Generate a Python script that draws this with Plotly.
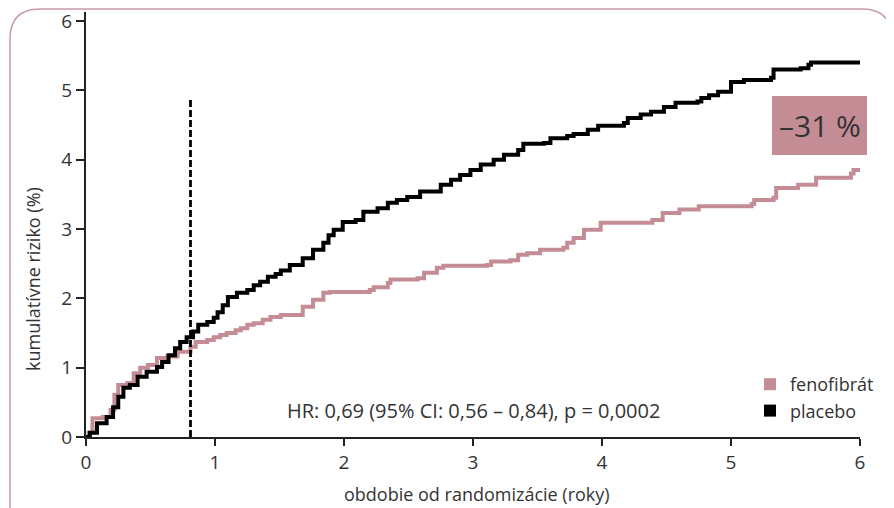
import plotly.graph_objects as go

# ---- data ----
placebo_x = [0.0, 0.03, 0.085, 0.16, 0.21, 0.25, 0.29, 0.34, 0.40, 0.47, 0.55, 0.59, 0.64, 0.69, 0.73,
             0.78, 0.83, 0.87, 0.94, 0.99, 1.02, 1.06, 1.10, 1.17, 1.25, 1.30, 1.35, 1.41, 1.47, 1.51,
             1.58, 1.68, 1.76, 1.84, 1.88, 1.92, 1.99, 2.09, 2.15, 2.26, 2.34, 2.41, 2.49, 2.59, 2.75,
             2.83, 2.90, 2.98, 3.06, 3.16, 3.24, 3.35, 3.39, 3.55, 3.60, 3.73, 3.78, 3.89, 3.97, 4.17,
             4.20, 4.30, 4.38, 4.48, 4.57, 4.74, 4.77, 4.83, 4.90, 5.00, 5.10, 5.31, 5.33, 5.54, 5.60,
             5.62, 6.00]
placebo_y = [0.0, 0.06, 0.20, 0.29, 0.43, 0.58, 0.71, 0.75, 0.87, 0.94, 1.01, 1.08, 1.18, 1.28, 1.37,
             1.44, 1.52, 1.62, 1.66, 1.72, 1.80, 1.90, 2.02, 2.08, 2.12, 2.19, 2.24, 2.31, 2.35, 2.40,
             2.48, 2.58, 2.70, 2.80, 2.91, 2.99, 3.10, 3.13, 3.25, 3.30, 3.38, 3.42, 3.46, 3.54, 3.64,
             3.71, 3.78, 3.85, 3.93, 4.00, 4.07, 4.14, 4.23, 4.24, 4.31, 4.34, 4.37, 4.43, 4.49, 4.53,
             4.60, 4.65, 4.69, 4.76, 4.82, 4.84, 4.89, 4.93, 4.98, 5.12, 5.15, 5.18, 5.30, 5.32, 5.37,
             5.40, 5.40]

feno_x = [0.0, 0.02, 0.05, 0.13, 0.19, 0.22, 0.25, 0.32, 0.37, 0.42, 0.48, 0.55, 0.63, 0.71, 0.81,
          0.85, 0.94, 0.99, 1.04, 1.09, 1.16, 1.20, 1.25, 1.30, 1.37, 1.43, 1.51, 1.68, 1.76, 1.84,
          1.89, 2.20, 2.23, 2.34, 2.36, 2.57, 2.62, 2.72, 2.77, 3.11, 3.14, 3.29, 3.35, 3.42, 3.52,
          3.70, 3.73, 3.78, 3.86, 3.99, 4.36, 4.39, 4.47, 4.60, 4.75, 5.16, 5.18, 5.33, 5.35, 5.52,
          5.66, 5.93, 5.95, 6.00]
feno_y = [0.0, 0.06, 0.27, 0.29, 0.39, 0.61, 0.75, 0.78, 0.92, 1.00, 1.04, 1.14, 1.16, 1.23, 1.30,
          1.37, 1.40, 1.44, 1.47, 1.50, 1.54, 1.57, 1.62, 1.64, 1.69, 1.73, 1.76, 1.88, 1.98, 2.08,
          2.09, 2.12, 2.16, 2.22, 2.27, 2.29, 2.37, 2.44, 2.47, 2.48, 2.53, 2.55, 2.63, 2.65, 2.70,
          2.73, 2.80, 2.87, 2.99, 3.09, 3.09, 3.13, 3.23, 3.28, 3.33, 3.36, 3.42, 3.45, 3.59, 3.64,
          3.74, 3.80, 3.85, 3.85]

x_ticks = [0, 1, 2, 3, 4, 5, 6]
y_ticks = [0, 1, 2, 3, 4, 5, 6]
landmark_x = 0.81
landmark_top = 4.9

PINK = "#c48d96"
TXT = "#333333"
FONT = "Open Sans"

# the page body adds an 8px offset; lay the figure out in screen pixels
OFF = 8
W, H = 894 - OFF, 508 - OFF
SL, SR, ST, SB = 86, 860, 12, 437          # plot area in screen pixels
ML, MR, MT, MB = SL - OFF, W - (SR - OFF), ST - OFF, H - (SB - OFF)
PW, PH = SR - SL, SB - ST

def px(xs):
    return (xs - SL) / PW

def py(ys):
    return (SB - ys) / PH

fig = go.Figure()
fig.add_trace(go.Scatter(x=feno_x, y=feno_y, mode="lines", line=dict(color=PINK, width=4, shape="hv"),
                         showlegend=False, hoverinfo="skip"))
fig.add_trace(go.Scatter(x=placebo_x, y=placebo_y, mode="lines", line=dict(color="black", width=4, shape="hv"),
                         showlegend=False, hoverinfo="skip"))
# legend entries
fig.add_trace(go.Scatter(x=[None], y=[None], mode="markers", name="fenofibrát",
                         marker=dict(symbol="square", size=13, color=PINK)))
fig.add_trace(go.Scatter(x=[None], y=[None], mode="markers", name="placebo",
                         marker=dict(symbol="square", size=13, color="black")))

# landmark dashed line
fig.add_shape(type="line", xref="x", yref="y", x0=landmark_x, x1=landmark_x, y0=0, y1=landmark_top,
              line=dict(color="black", width=2.8, dash="7px,3px"))

# rounded frame
L, R, T, B, r = 10, 892, 9, 530, 30
path = (f"M {px(L)} {py(B)} L {px(L)} {py(T + r)} Q {px(L)} {py(T)} {px(L + r)} {py(T)} "
        f"L {px(R - r)} {py(T)} Q {px(R)} {py(T)} {px(R)} {py(T + r)} L {px(R)} {py(B)}")
fig.add_shape(type="path", xref="paper", yref="paper", path=path,
              line=dict(color="#c99aa3", width=1.5), layer="below")

# -31 % box
fig.add_shape(type="rect", xref="paper", yref="paper", x0=px(772), x1=px(867), y0=py(155), y1=py(96),
              fillcolor=PINK, line=dict(width=0))
fig.add_annotation(xref="paper", yref="paper", x=px(819.5), y=py(125.5), text="–31 %", showarrow=False,
                   font=dict(family=FONT, size=30, color=TXT), xanchor="center", yanchor="middle")

fig.add_annotation(xref="x", yref="y", x=3.0, y=0.38, text="HR: 0,69 (95% CI: 0,56 – 0,84), p = 0,0002",
                   showarrow=False, font=dict(family=FONT, size=20, color=TXT), xanchor="center", yanchor="middle")

fig.add_annotation(xref="paper", yref="paper", x=px(477), y=py(494), text="obdobie od randomizácie (roky)",
                   showarrow=False, font=dict(family=FONT, size=18, color=TXT), xanchor="center", yanchor="middle")
fig.add_annotation(xref="paper", yref="paper", x=px(33), y=py(279), text="kumulatívne riziko (%)",
                   showarrow=False, textangle=-90, font=dict(family=FONT, size=18, color=TXT),
                   xanchor="center", yanchor="middle")

fig.update_layout(
    width=W, height=H, margin=dict(l=ML, r=MR, t=MT, b=MB, autoexpand=False),
    paper_bgcolor="white", plot_bgcolor="white",
    font=dict(family=FONT, color=TXT),
    legend=dict(x=px(750), y=py(366), xanchor="left", yanchor="top", bgcolor="rgba(0,0,0,0)",
                font=dict(family=FONT, size=18, color=TXT), tracegroupgap=0, itemsizing="constant"),
)
fig.update_xaxes(range=[0, 6], tickvals=x_ticks, ticktext=[str(v) for v in x_ticks], automargin=False,
                 showgrid=False, zeroline=False, showline=True, linecolor="#222", linewidth=2,
                 ticks="outside", ticklen=7, tickwidth=2, tickcolor="#222", ticklabeloverflow="allow",
                 tickfont=dict(family=FONT, size=19, color=TXT))
fig.update_yaxes(range=[0, 6.13], tickvals=y_ticks, ticktext=[str(v) for v in y_ticks], automargin=False,
                 showgrid=False, zeroline=False, showline=True, linecolor="#222", linewidth=2,
                 ticks="outside", ticklen=8, tickwidth=2, tickcolor="#222", ticklabeloverflow="allow",
                 tickfont=dict(family=FONT, size=19, color=TXT))

fig.write_html("out.html")
